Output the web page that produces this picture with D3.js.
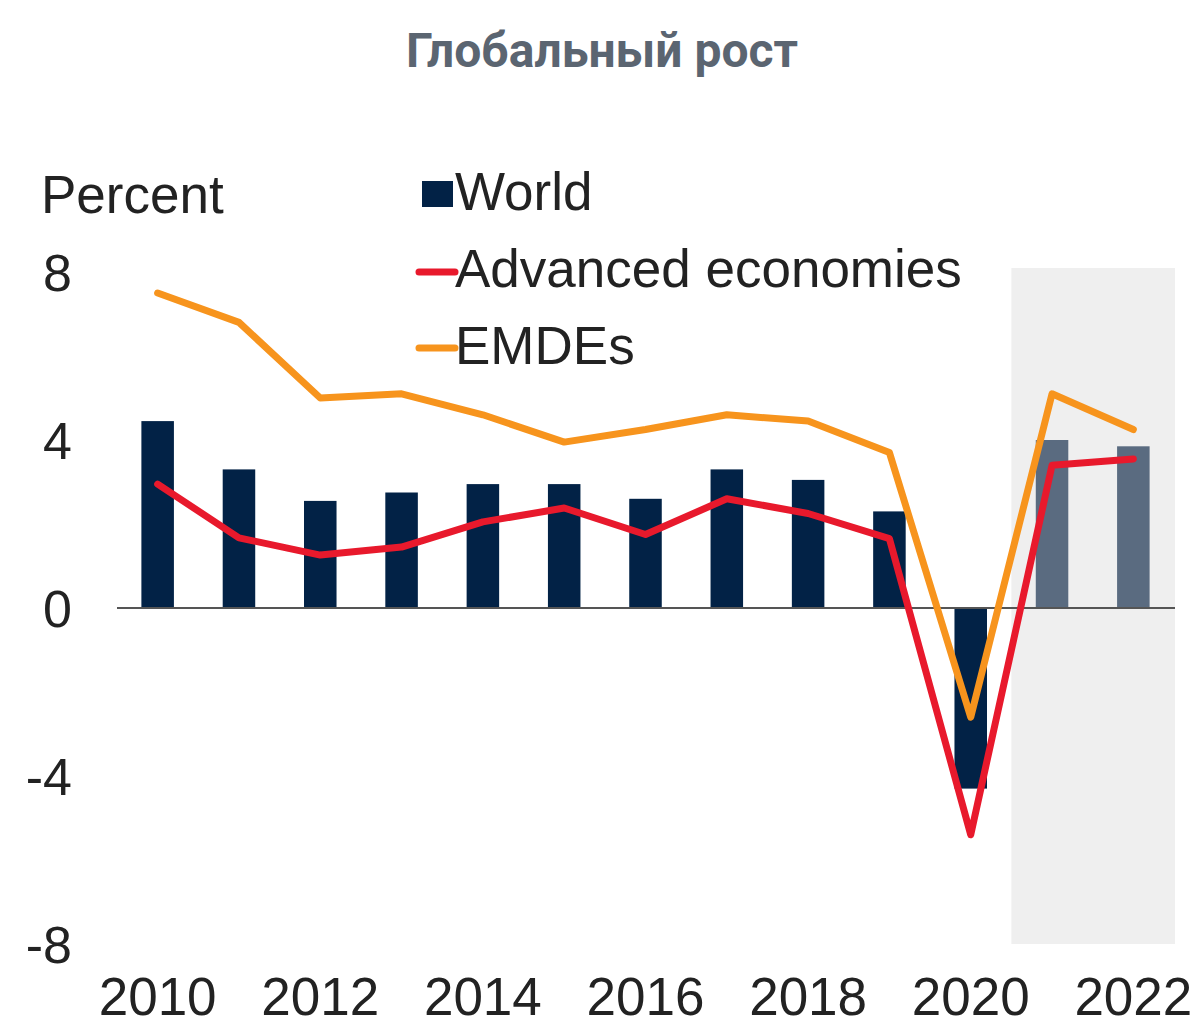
<!DOCTYPE html>
<html>
<head>
<meta charset="utf-8">
<script src="https://cdn.jsdelivr.net/npm/d3@7"></script>
<style>
  html, body { margin: 0; padding: 0; background: #ffffff; }
  svg { display: block; }
</style>
</head>
<body>
<svg id="chart" width="1192" height="1026"></svg>
<script>
const years = [2010, 2011, 2012, 2013, 2014, 2015, 2016, 2017, 2018, 2019, 2020, 2021, 2022];
const world = [4.45, 3.3, 2.55, 2.75, 2.95, 2.95, 2.6, 3.3, 3.05, 2.3, -4.3, 4.0, 3.85];
const advanced = [2.95, 1.67, 1.26, 1.45, 2.05, 2.38, 1.75, 2.6, 2.25, 1.65, -5.4, 3.4, 3.55];
const emdes = [7.5, 6.8, 5.0, 5.1, 4.6, 3.95, 4.25, 4.6, 4.45, 3.7, -2.6, 5.1, 4.25];
const forecastYears = [2021, 2022];
const yTicks = [8, 4, 0, -4, -8];
const xTickLabels = [2010, 2012, 2014, 2016, 2018, 2020, 2022];
const titleText = "Глобальный рост";
const unitText = "Percent";
const legendLabels = ["World", "Advanced economies", "EMDEs"];

const svg = d3.select("#chart");
const font = "'Liberation Sans', Arial, sans-serif";
const colors = { world: "#022246", worldF: "#5a6b80", adv: "#e8192c", emde: "#f7941d", shade: "#efefef", text: "#222222" };

const x = d3.scaleBand().domain(years).range([117, 1174]).paddingInner(0.6).paddingOuter(0.3);
const y = d3.scaleLinear().domain([-8, 8]).range([944, 272]);
const cx = d => x(d) + x.bandwidth() / 2;

// title
svg.append("text").attr("x", 602).attr("y", 67).attr("text-anchor", "middle")
  .attr("font-family", "Roboto, 'Open Sans', sans-serif").attr("font-weight", "bold")
  .attr("font-size", 48).attr("fill", "#5b6571").text(titleText);

// forecast shading
const fStart = x(forecastYears[0]) - x.step() * x.paddingInner() / 2;
svg.append("rect")
  .attr("x", fStart).attr("y", y(8) - 4)
  .attr("width", 1175 - fStart).attr("height", y(-8) - y(8) + 4)
  .attr("fill", colors.shade);

// bars
svg.append("g").selectAll("rect").data(years.map((yr, i) => ({ yr, v: world[i] })))
  .join("rect")
  .attr("x", d => x(d.yr)).attr("width", x.bandwidth())
  .attr("y", d => y(Math.max(0, d.v))).attr("height", d => Math.abs(y(d.v) - y(0)))
  .attr("fill", d => forecastYears.includes(d.yr) ? colors.worldF : colors.world);

// zero line
svg.append("line").attr("x1", 117).attr("x2", 1175).attr("y1", y(0)).attr("y2", y(0))
  .attr("stroke", "#555").attr("stroke-width", 2);

// lines
const line = d3.line().x((d, i) => cx(years[i])).y(d => y(d));
svg.append("path").attr("d", line(emdes)).attr("fill", "none").attr("stroke", colors.emde)
  .attr("stroke-width", 7).attr("stroke-linejoin", "round").attr("stroke-linecap", "round");
svg.append("path").attr("d", line(advanced)).attr("fill", "none").attr("stroke", colors.adv)
  .attr("stroke-width", 7).attr("stroke-linejoin", "round").attr("stroke-linecap", "round");

// y tick labels
svg.append("g").selectAll("text").data(yTicks).join("text")
  .attr("x", 72).attr("y", d => y(d)).attr("dy", "0.36em").attr("text-anchor", "end")
  .attr("font-family", font).attr("font-size", 52).attr("fill", colors.text)
  .text(d => d);

// unit label
svg.append("text").attr("x", 41).attr("y", 213).attr("font-family", font)
  .attr("font-size", 53).attr("fill", colors.text).text(unitText);

// x tick labels
svg.append("g").selectAll("text").data(xTickLabels).join("text")
  .attr("x", d => cx(d)).attr("y", 1015).attr("text-anchor", "middle")
  .attr("font-family", font).attr("font-size", 53).attr("fill", colors.text)
  .text(d => d);

// legend
const lg = svg.append("g");
const rowY = [193, 270, 347];
lg.append("rect").attr("x", 422).attr("y", rowY[0] - 12).attr("width", 31).attr("height", 26).attr("fill", colors.world);
lg.append("line").attr("x1", 419).attr("x2", 455).attr("y1", rowY[1] + 2).attr("y2", rowY[1] + 2)
  .attr("stroke", colors.adv).attr("stroke-width", 7).attr("stroke-linecap", "round");
lg.append("line").attr("x1", 419).attr("x2", 455).attr("y1", rowY[2] + 1).attr("y2", rowY[2] + 1)
  .attr("stroke", colors.emde).attr("stroke-width", 7).attr("stroke-linecap", "round");
lg.selectAll("text.lbl").data(legendLabels).join("text").attr("class", "lbl")
  .attr("x", (d, i) => i === 0 ? 455 : 455).attr("y", (d, i) => rowY[i] + 17)
  .attr("font-family", font).attr("font-size", 53).attr("fill", colors.text)
  .text(d => d);
</script>
</body>
</html>
